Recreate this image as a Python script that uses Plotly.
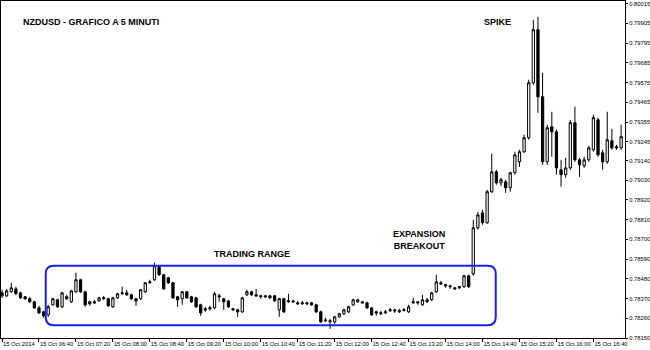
import plotly.graph_objects as go

# NZDUSD, 5-minute bars of 15 Oct 2014 starting at 06:00.
# Prices are quoted in units of 0.00001.
opens = [
    78402, 78385, 78408, 78424, 78402, 78380, 78369, 78352, 78318, 78296,
    78279, 78335, 78363, 78324, 78380, 78352, 78408, 78475, 78408, 78352,
    78352, 78357, 78369, 78369, 78324, 78374, 78397, 78402, 78391, 78369,
    78369, 78408, 78458, 78475, 78547, 78503, 78486, 78458, 78380, 78369,
    78408, 78380, 78374, 78335, 78313, 78313, 78318, 78385, 78369, 78357,
    78313, 78307, 78296, 78391, 78408, 78391, 78380, 78385, 78385, 78385,
    78307, 78369, 78352, 78357, 78346, 78341, 78346, 78346, 78335, 78296,
    78251, 78240, 78240, 78268, 78285, 78296, 78335, 78352, 78352, 78346,
    78318, 78296, 78285, 78290, 78302, 78307, 78296, 78302, 78296, 78346,
    78352, 78335, 78352, 78363, 78408, 78458, 78447, 78441, 78430, 78430,
    78436, 78497, 78508, 78765, 78848, 78793, 78966, 79077, 79016, 79021,
    78988, 79072, 79133, 79189, 79267, 79574, 79870, 79496, 79133, 79328,
    79300, 79088, 79061, 79099, 79351, 79144, 79111, 79144, 79200, 79367,
    79183, 79133, 79250, 79217, 79211,
]
highs = [
    78419, 78424, 78458, 78436, 78408, 78385, 78380, 78357, 78330, 78302,
    78335, 78374, 78369, 78408, 78391, 78419, 78514, 78480, 78413, 78357,
    78363, 78380, 78385, 78374, 78380, 78402, 78436, 78419, 78397, 78374,
    78424, 78463, 78475, 78570, 78553, 78508, 78491, 78463, 78385, 78413,
    78413, 78385, 78380, 78341, 78324, 78330, 78408, 78397, 78374, 78363,
    78318, 78313, 78380, 78419, 78413, 78424, 78391, 78391, 78391, 78391,
    78374, 78374, 78397, 78363, 78357, 78357, 78352, 78352, 78341, 78302,
    78263, 78257, 78274, 78290, 78313, 78330, 78369, 78369, 78357, 78352,
    78324, 78302, 78302, 78307, 78318, 78313, 78313, 78318, 78335, 78374,
    78357, 78391, 78374, 78408, 78503, 78469, 78452, 78447, 78436, 78441,
    78503, 78503, 78809, 78854, 78865, 78977, 79178, 79088, 79044, 79033,
    79077, 79189, 79200, 79284, 79591, 79925, 79942, 79630, 79340, 79412,
    79312, 79144, 79155, 79367, 79440, 79155, 79161, 79222, 79395, 79379,
    79200, 79412, 79317, 79228, 79340,
]
lows = [
    78374, 78380, 78402, 78391, 78369, 78363, 78346, 78313, 78285, 78263,
    78268, 78330, 78318, 78318, 78363, 78346, 78402, 78402, 78324, 78330,
    78341, 78352, 78363, 78324, 78318, 78369, 78391, 78385, 78363, 78330,
    78363, 78402, 78452, 78469, 78497, 78419, 78452, 78369, 78324, 78335,
    78369, 78346, 78318, 78274, 78296, 78302, 78313, 78352, 78307, 78318,
    78302, 78268, 78290, 78385, 78385, 78380, 78369, 78374, 78369, 78352,
    78268, 78290, 78346, 78346, 78335, 78335, 78335, 78330, 78290, 78235,
    78240, 78201, 78229, 78263, 78279, 78290, 78330, 78346, 78341, 78313,
    78274, 78274, 78279, 78285, 78296, 78290, 78290, 78302, 78290, 78341,
    78335, 78330, 78346, 78357, 78402, 78447, 78430, 78424, 78419, 78424,
    78430, 78430, 78497, 78754, 78782, 78787, 78960, 79005, 78999, 78960,
    78966, 79061, 79105, 79183, 79256, 79563, 79406, 79116, 79116, 79161,
    79061, 78994, 79044, 79088, 79133, 79049, 79099, 79133, 79189, 79161,
    79088, 79122, 79200, 79200, 79200,
]
closes = [
    78385, 78413, 78430, 78397, 78374, 78369, 78352, 78318, 78290, 78274,
    78324, 78369, 78324, 78402, 78369, 78413, 78475, 78408, 78335, 78341,
    78346, 78374, 78374, 78330, 78374, 78397, 78402, 78391, 78369, 78357,
    78419, 78458, 78463, 78553, 78503, 78424, 78458, 78374, 78363, 78408,
    78374, 78352, 78324, 78290, 78307, 78318, 78397, 78380, 78352, 78324,
    78307, 78296, 78374, 78408, 78391, 78385, 78385, 78380, 78374, 78357,
    78369, 78296, 78357, 78352, 78341, 78346, 78341, 78335, 78296, 78240,
    78246, 78246, 78268, 78285, 78307, 78324, 78363, 78363, 78346, 78318,
    78279, 78290, 78290, 78296, 78307, 78302, 78302, 78307, 78324, 78352,
    78346, 78363, 78363, 78402, 78463, 78452, 78441, 78436, 78424, 78436,
    78497, 78436, 78765, 78837, 78793, 78966, 79077, 79016, 79033, 78988,
    79072, 79172, 79189, 79267, 79574, 79870, 79496, 79133, 79323, 79300,
    79099, 79061, 79099, 79351, 79144, 79116, 79144, 79211, 79379, 79172,
    79133, 79256, 79211, 79211, 79273,
]

# time axis labels, one every 8 bars (40 minutes)
tick_bars = [0, 8, 16, 24, 32, 40, 48, 56, 64, 72, 80, 88, 96, 104, 112, 120, 128]
tick_text = [
    "15 Oct 2014", "15 Oct 06:40", "15 Oct 07:20", "15 Oct 08:00", "15 Oct 08:40",
    "15 Oct 09:20", "15 Oct 10:00", "15 Oct 10:40", "15 Oct 11:20", "15 Oct 12:00",
    "15 Oct 12:40", "15 Oct 13:20", "15 Oct 14:00", "15 Oct 14:40", "15 Oct 15:20",
    "15 Oct 16:00", "15 Oct 16:40",
]

# price scale labels
price_ticks = [
    0.80015, 0.79905, 0.79795, 0.79685, 0.79575, 0.79465, 0.79355, 0.79245,
    0.79140, 0.79030, 0.78920, 0.78810, 0.78700, 0.78590, 0.78480, 0.78370,
    0.78260, 0.78150,
]

SCALE = 1e-5
bars = list(range(len(opens)))

fig = go.Figure(
    go.Candlestick(
        x=bars,
        open=[v * SCALE for v in opens],
        high=[v * SCALE for v in highs],
        low=[v * SCALE for v in lows],
        close=[v * SCALE for v in closes],
        increasing=dict(line=dict(color="black", width=1), fillcolor="white"),
        decreasing=dict(line=dict(color="black", width=1), fillcolor="black"),
        whiskerwidth=0,
        hoverinfo="skip",
        showlegend=False,
    )
)

# rounded frame around the consolidation zone (bar index / price units)
bx0, bx1 = 9.46, 106.86
by_top, by_bot = 0.78553, 0.78221
rx, ry = 1.73, 0.000446
box_path = (
    f"M {bx0 + rx},{by_top} L {bx1 - rx},{by_top} Q {bx1},{by_top} {bx1},{by_top - ry} "
    f"L {bx1},{by_bot + ry} Q {bx1},{by_bot} {bx1 - rx},{by_bot} "
    f"L {bx0 + rx},{by_bot} Q {bx0},{by_bot} {bx0},{by_bot + ry} "
    f"L {bx0},{by_top - ry} Q {bx0},{by_top} {bx0 + rx},{by_top} Z"
)
fig.add_shape(
    type="path", path=box_path, xref="x", yref="y",
    line=dict(color="rgb(25,35,235)", width=2), fillcolor="rgba(0,0,0,0)",
)

label_font = dict(family="Liberation Sans, Arial, sans-serif", size=9, color="black")
notes = [
    dict(text="<b>NZDUSD - GRAFICO A 5 MINUTI</b>", x=0.0313, y=0.9377, xanchor="left"),
    dict(text="<b>SPIKE</b>", x=0.795, y=0.9377, xanchor="center"),
    dict(text="<b>EXPANSION<br>BREAKOUT</b>", x=0.670, y=0.2908, xanchor="center"),
    dict(text="<b>TRADING RANGE</b>", x=0.403, y=0.2493, xanchor="center"),
]
for n in notes:
    fig.add_annotation(
        xref="paper", yref="paper", yanchor="middle", showarrow=False,
        font=label_font, **n,
    )

tick_font = dict(family="Liberation Sans, Arial, sans-serif", size=5.8, color="black")
fig.update_layout(
    width=650, height=350,
    margin=dict(l=1, r=25, t=1, b=12),
    paper_bgcolor="white", plot_bgcolor="white",
    xaxis=dict(
        range=[-0.22, 134.84], rangeslider=dict(visible=False),
        showgrid=False, zeroline=False,
        showline=True, mirror=True, linecolor="black", linewidth=1,
        ticks="outside", ticklen=3, tickcolor="black", tickwidth=1,
        tickvals=tick_bars, ticktext=tick_text, tickfont=tick_font,
        ticklabelposition="outside right", tickangle=0, automargin=False,
    ),
    yaxis=dict(
        side="right", range=[0.7815, 0.8003],
        showgrid=False, zeroline=False,
        showline=True, mirror=True, linecolor="black", linewidth=1,
        ticks="outside", ticklen=2, tickcolor="black", tickwidth=1,
        tickvals=price_ticks, ticktext=[f"{v:.5f}" for v in price_ticks],
        tickfont=tick_font, automargin=False,
    ),
)

fig.write_html("out.html")
